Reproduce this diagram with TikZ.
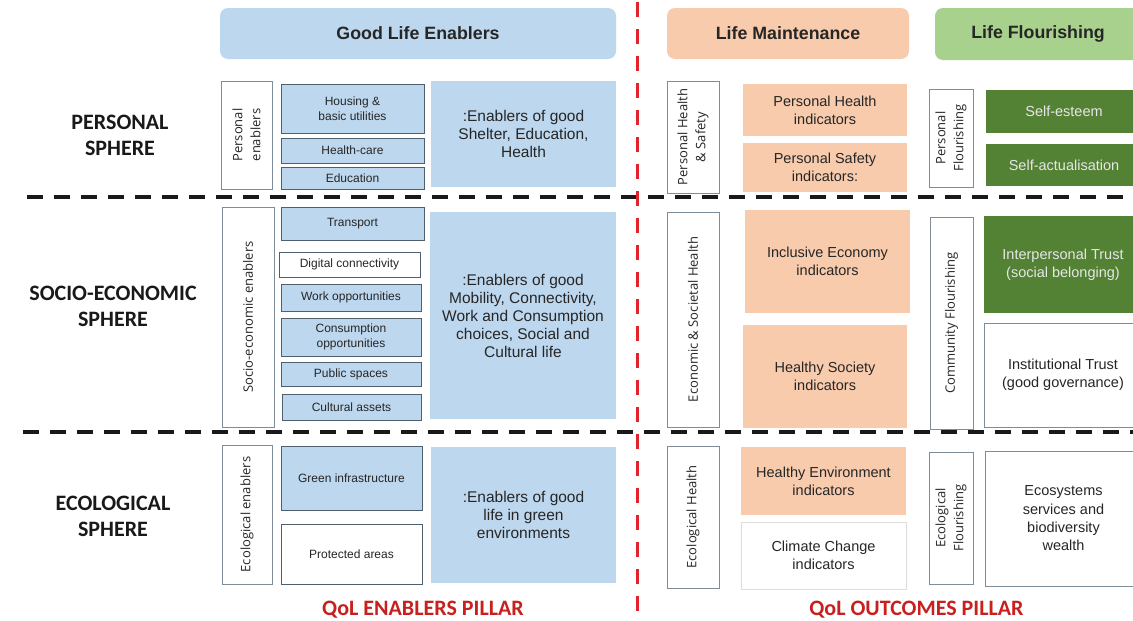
\documentclass[tikz,border=0pt]{standalone}
\usepackage{fontspec}
\setmainfont{Liberation Sans}
\newfontfamily\carl{Carlito}
\newfontfamily\osans{Open Sans}
\definecolor{blueF}{HTML}{BDD7EE}
\definecolor{peachF}{HTML}{F8CBAD}
\definecolor{lgreen}{HTML}{A9D18E}
\definecolor{dgreen}{HTML}{548235}
\definecolor{dgtext}{HTML}{E6E6E6}
\definecolor{txt}{HTML}{262626}
\definecolor{lstB}{HTML}{4F5F6E}
\definecolor{vB}{HTML}{7F8C99}
\definecolor{lightB}{HTML}{DDDDDD}
\definecolor{redL}{HTML}{E0242A}
\definecolor{redT}{HTML}{C8201E}
\newcommand{\bx}[7]{\node[#6, inner sep=0pt, outer sep=0pt, minimum width={(#4)-(#2)}, minimum height={(#5)-(#3)}] (#1) at ({((#2)+(#4))/2},{((#3)+(#5))/2}) {#7};}
\newcommand{\vbx}[7]{\node[#6, rotate=90, inner sep=0pt, outer sep=0pt, minimum width={(#5)-(#3)}, minimum height={(#4)-(#2)}] (#1) at ({((#2)+(#4))/2},{((#3)+(#5))/2}) {#7};}
\begin{document}
\begin{tikzpicture}[x=1pt,y=-1pt,
  hdr/.style={rounded corners=8pt, text=txt, font=\fontsize{17.8}{20}\selectfont\bfseries},
  lst/.style={fill=blueF, draw=lstB, line width=0.9pt, text=txt, align=center, font=\fontsize{12}{15.5}\selectfont},
  lstw/.style={lst, fill=white},
  big/.style={fill=blueF, text=txt, align=center, font=\fontsize{15.5}{18}\selectfont},
  vlab/.style={draw=vB, fill=white, line width=0.8pt, text=txt, align=center, font=\osans\fontsize{13}{18}\selectfont},
  peach/.style={fill=peachF, text=txt, align=center, font=\fontsize{14.5}{18}\selectfont},
  dg/.style={fill=dgreen, text=dgtext, align=center, font=\fontsize{14.5}{18}\selectfont},
  wbx/.style={draw=vB, fill=white, line width=0.8pt, text=txt, align=center, font=\fontsize{14.5}{18.3}\selectfont},
  sph/.style={align=center, text=black!90, font=\carl\bfseries\fontsize{22}{26}\selectfont},
  pil/.style={text=redT, font=\carl\bfseries\fontsize{22}{26}\selectfont},
  bdash/.style={line width=4pt, black!90, dash pattern=on 16pt off 11pt},
  rdash/.style={line width=3pt, redL, dash pattern=on 15pt off 12pt}
]
\useasboundingbox (0,0) rectangle (1133,621);
\fill[white] (0,0) rectangle (1133,621);

% headers
\bx{hGLE}{220}{8}{616}{59}{hdr, fill=blueF}{Good Life Enablers}
\bx{hLM}{667}{8}{909}{59}{hdr, fill=peachF}{Life Maintenance}
\bx{hLF}{935}{8}{1141}{60}{hdr, fill=lgreen}{Life Flourishing}

% sphere labels
\node[sph] (sP) at (120,135) {PERSONAL\\SPHERE};
\node[sph] (sS) at (113,306) {SOCIO-ECONOMIC\\SPHERE};
\node[sph] (sE) at (113,516) {ECOLOGICAL\\SPHERE};

% personal row
\vbx{vPE}{221}{81}{272}{189}{vlab}{Personal\\enablers}
\bx{eHou}{281}{84}{424}{133}{lst}{Housing \&\\basic utilities}
\bx{eHC}{281}{138}{424}{163}{lst}{Health-care}
\bx{eEd}{281}{167}{424}{189}{lst}{Education}
\bx{bigP}{431}{81}{616}{187}{big}{:Enablers of good\\Shelter, Education,\\Health}
\vbx{vPHS}{667}{81}{719}{193}{vlab}{Personal Health\\\& Safety}
\bx{iPH}{743}{84}{907}{136}{peach}{Personal Health\\indicators}
\bx{iPS}{743}{143}{907}{192}{peach}{Personal Safety\\indicators:}
\vbx{vPF}{929}{89}{973}{187}{vlab}{Personal\\Flourishing}
\bx{gSE}{986}{90}{1142}{133}{dg}{Self-esteem}
\bx{gSA}{986}{144}{1142}{186}{dg}{Self-actualisation}

% socio-economic row
\vbx{vSE}{222}{207}{274}{427}{vlab}{Socio-economic enablers}
\bx{eTr}{281}{207}{424}{240}{lst}{Transport}
\bx{eDi}{279}{252}{420}{277}{lstw}{Digital connectivity}
\bx{eWo}{281}{284}{421}{311}{lst}{Work opportunities}
\bx{eCo}{281}{318}{421}{356}{lst}{Consumption\\opportunities}
\bx{ePu}{281}{362}{421}{386}{lst}{Public spaces}
\bx{eCu}{282}{394}{421}{420}{lst}{Cultural assets}
\bx{bigS}{430}{212}{616}{419}{big}{:Enablers of good\\Mobility, Connectivity,\\Work and Consumption\\choices, Social and\\Cultural life}
\vbx{vESH}{667}{212}{719}{427}{vlab}{Economic \& Societal Health}
\bx{iIE}{745}{210}{910}{313}{peach}{Inclusive Economy\\indicators}
\bx{iHS}{743}{325}{907}{428}{peach}{Healthy Society\\indicators}
\vbx{vCF}{930}{217}{973}{429}{vlab}{Community Flourishing}
\bx{gIT}{984}{216}{1142}{313}{dg}{Interpersonal Trust\\(social belonging)}
\bx{wIN}{984}{323}{1142}{427}{wbx}{Institutional Trust\\(good governance)}

% ecological row
\vbx{vEE}{222}{445}{272}{584}{vlab}{Ecological enablers}
\bx{eGr}{281}{446}{422}{510}{lst}{Green infrastructure}
\bx{ePr}{281}{524}{422}{584}{lstw}{Protected areas}
\bx{bigE}{431}{447}{616}{583}{big}{:Enablers of good\\life in green\\environments}
\vbx{vEH}{667}{446}{719}{588}{vlab}{Ecological Health}
\bx{iHE}{741}{447}{906}{515}{peach}{Healthy Environment\\indicators}
\bx{wCC}{741}{522}{906}{589}{wbx, draw=lightB}{Climate Change\\indicators}
\vbx{vEF}{929}{452}{973}{584}{vlab}{Ecological\\Flourishing}
\bx{wES}{985}{451}{1142}{586}{wbx}{Ecosystems\\services and\\biodiversity\\wealth}

% pillars
\node[pil, anchor=base] (pE) at (423,615) {QoL ENABLERS PILLAR};
\node[pil, anchor=base] (pO) at (916.5,615) {QoL OUTCOMES PILLAR};

% dashed separators
\coordinate (d1s) at (27,197);
\coordinate (d1e) at (1133,197);
\coordinate (d2s) at (23,432);
\coordinate (d2e) at (1133,432);
\draw[bdash] (d1s) -- (d1e);
\draw[bdash] (d2s) -- (d2e);
\coordinate (rt) at (637,2);
\coordinate (rb) at (637,621);
\draw[rdash] (rt) -- (rb);
\end{tikzpicture}
\end{document}
